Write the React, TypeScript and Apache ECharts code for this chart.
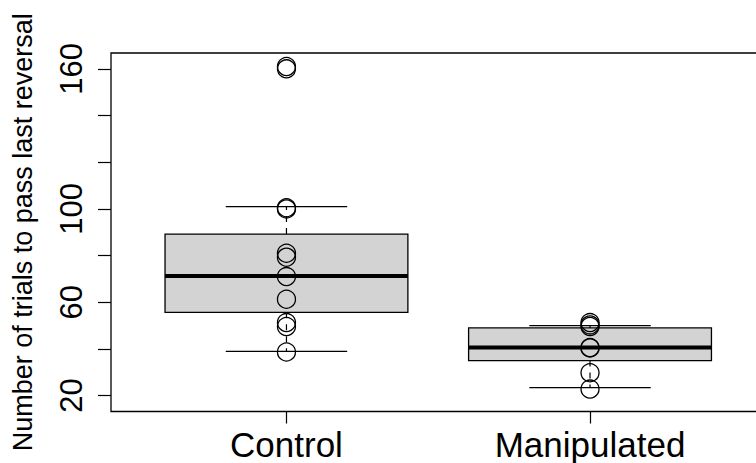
import React, { useEffect, useRef } from "react";
import * as echarts from "echarts";

// Groups and their x positions
const groupNames = ["Control", "Manipulated"];
const groupPositions = [1, 2];

// Box statistics: [lower whisker, Q1, median, Q3, upper whisker]
const controlStats = [39, 55.7, 71.3, 89.2, 101];
const manipulatedStats = [23.4, 35, 40.6, 49, 50];

// Individual observations (circles)
const controlValues = [161, 160, 100.5, 100, 81, 79.3, 71, 61.3, 51.3, 49.6, 38.7];
const manipulatedValues = [51.3, 50.3, 49.6, 40.6, 40.4, 29.8, 22.8];

// Axis ticks
const yTickValues = [20, 40, 60, 80, 100, 120, 140, 160];
const yLabelValues = [20, 60, 100, 160];

const FONT = "Liberation Sans, Arial, Helvetica, sans-serif";
const BOX_HALF = 0.4;
const CAP_HALF = 0.2;

export default function App() {
  const ref = useRef<HTMLDivElement>(null);

  useEffect(() => {
    if (!ref.current) return;
    const chart = echarts.init(ref.current, null, { renderer: "svg" });

    const boxData = [
      [groupPositions[0], ...controlStats],
      [groupPositions[1], ...manipulatedStats],
    ];

    const renderItem = (params: any, api: any) => {
      const x = api.value(0);
      const lo = api.value(1);
      const q1 = api.value(2);
      const med = api.value(3);
      const q3 = api.value(4);
      const hi = api.value(5);
      const pc = (xx: number, yy: number) => api.coord([xx, yy]);
      const tl = pc(x - BOX_HALF, q3);
      const br = pc(x + BOX_HALF, q1);
      const cHi = pc(x, hi);
      const cQ3 = pc(x, q3);
      const cQ1 = pc(x, q1);
      const cLo = pc(x, lo);
      const mL = pc(x - BOX_HALF, med);
      const mR = pc(x + BOX_HALF, med);
      const capHiL = pc(x - CAP_HALF, hi);
      const capHiR = pc(x + CAP_HALF, hi);
      const capLoL = pc(x - CAP_HALF, lo);
      const capLoR = pc(x + CAP_HALF, lo);
      const dash = { stroke: "#000", lineWidth: 1.2, lineDash: [6, 6], fill: null };
      const solid = { stroke: "#000", lineWidth: 1.3, fill: null };
      return {
        type: "group",
        children: [
          { type: "line", shape: { x1: cQ3[0], y1: cQ3[1], x2: cHi[0], y2: cHi[1] }, style: dash },
          { type: "line", shape: { x1: cQ1[0], y1: cQ1[1], x2: cLo[0], y2: cLo[1] }, style: dash },
          { type: "line", shape: { x1: capHiL[0], y1: capHiL[1], x2: capHiR[0], y2: capHiR[1] }, style: solid },
          { type: "line", shape: { x1: capLoL[0], y1: capLoL[1], x2: capLoR[0], y2: capLoR[1] }, style: solid },
          {
            type: "rect",
            shape: { x: tl[0], y: tl[1], width: br[0] - tl[0], height: br[1] - tl[1] },
            style: { fill: "#D3D3D3", stroke: "#000", lineWidth: 1.3 },
          },
          { type: "line", shape: { x1: mL[0], y1: mL[1], x2: mR[0], y2: mR[1] }, style: { stroke: "#000", lineWidth: 4 } },
        ],
      };
    };

    chart.setOption({
      animation: false,
      backgroundColor: "#fff",
      grid: {
        left: 111,
        top: 53,
        right: 0,
        bottom: 51.5,
        show: true,
        borderColor: "#000",
        borderWidth: 1.3,
        backgroundColor: "transparent",
      },
      xAxis: {
        type: "value",
        min: 0.422,
        max: 2.583,
        splitLine: { show: false },
        axisLine: { show: false },
        axisTick: { show: true, length: 12, customValues: groupPositions, lineStyle: { color: "#000", width: 1.2 } },
        axisLabel: {
          customValues: groupPositions,
          formatter: (v: number) => groupNames[Math.round(v) - 1] ?? "",
          fontFamily: FONT,
          fontSize: 35,
          lineHeight: 35,
          color: "#000",
          margin: 15,
        },
      },
      yAxis: {
        type: "value",
        min: 13.2,
        max: 166.8,
        splitLine: { show: false },
        axisLine: { show: false },
        axisTick: { show: true, length: 13, customValues: yTickValues, lineStyle: { color: "#000", width: 1.2 } },
        axisLabel: {
          customValues: yLabelValues,
          rotate: 90,
          fontFamily: FONT,
          fontSize: 31,
          color: "#000",
          margin: 24,
        },
        name: "Number of trials to pass last reversal",
        nameLocation: "middle",
        nameRotate: 90,
        nameGap: 75,
        nameTextStyle: { fontFamily: FONT, fontSize: 27, color: "#000" },
      },
      series: [
        {
          type: "custom",
          renderItem,
          data: boxData,
          encode: { x: 0, y: [1, 2, 3, 4, 5] },
          z: 2,
          silent: true,
        },
        {
          type: "scatter",
          data: [
            ...controlValues.map((v) => [groupPositions[0], v]),
            ...manipulatedValues.map((v) => [groupPositions[1], v]),
          ],
          symbol: "circle",
          symbolSize: 18,
          itemStyle: { color: "rgba(0,0,0,0)", borderColor: "#000", borderWidth: 1.3, opacity: 1 },
          z: 3,
          silent: true,
        },
      ],
    });

    return () => chart.dispose();
  }, []);

  return (
    <div
      style={{ position: "absolute", left: 0, top: 0, width: 756, height: 463, overflow: "hidden", background: "#fff" }}
    >
      <div ref={ref} style={{ width: 767, height: 463 }} />
    </div>
  );
}
